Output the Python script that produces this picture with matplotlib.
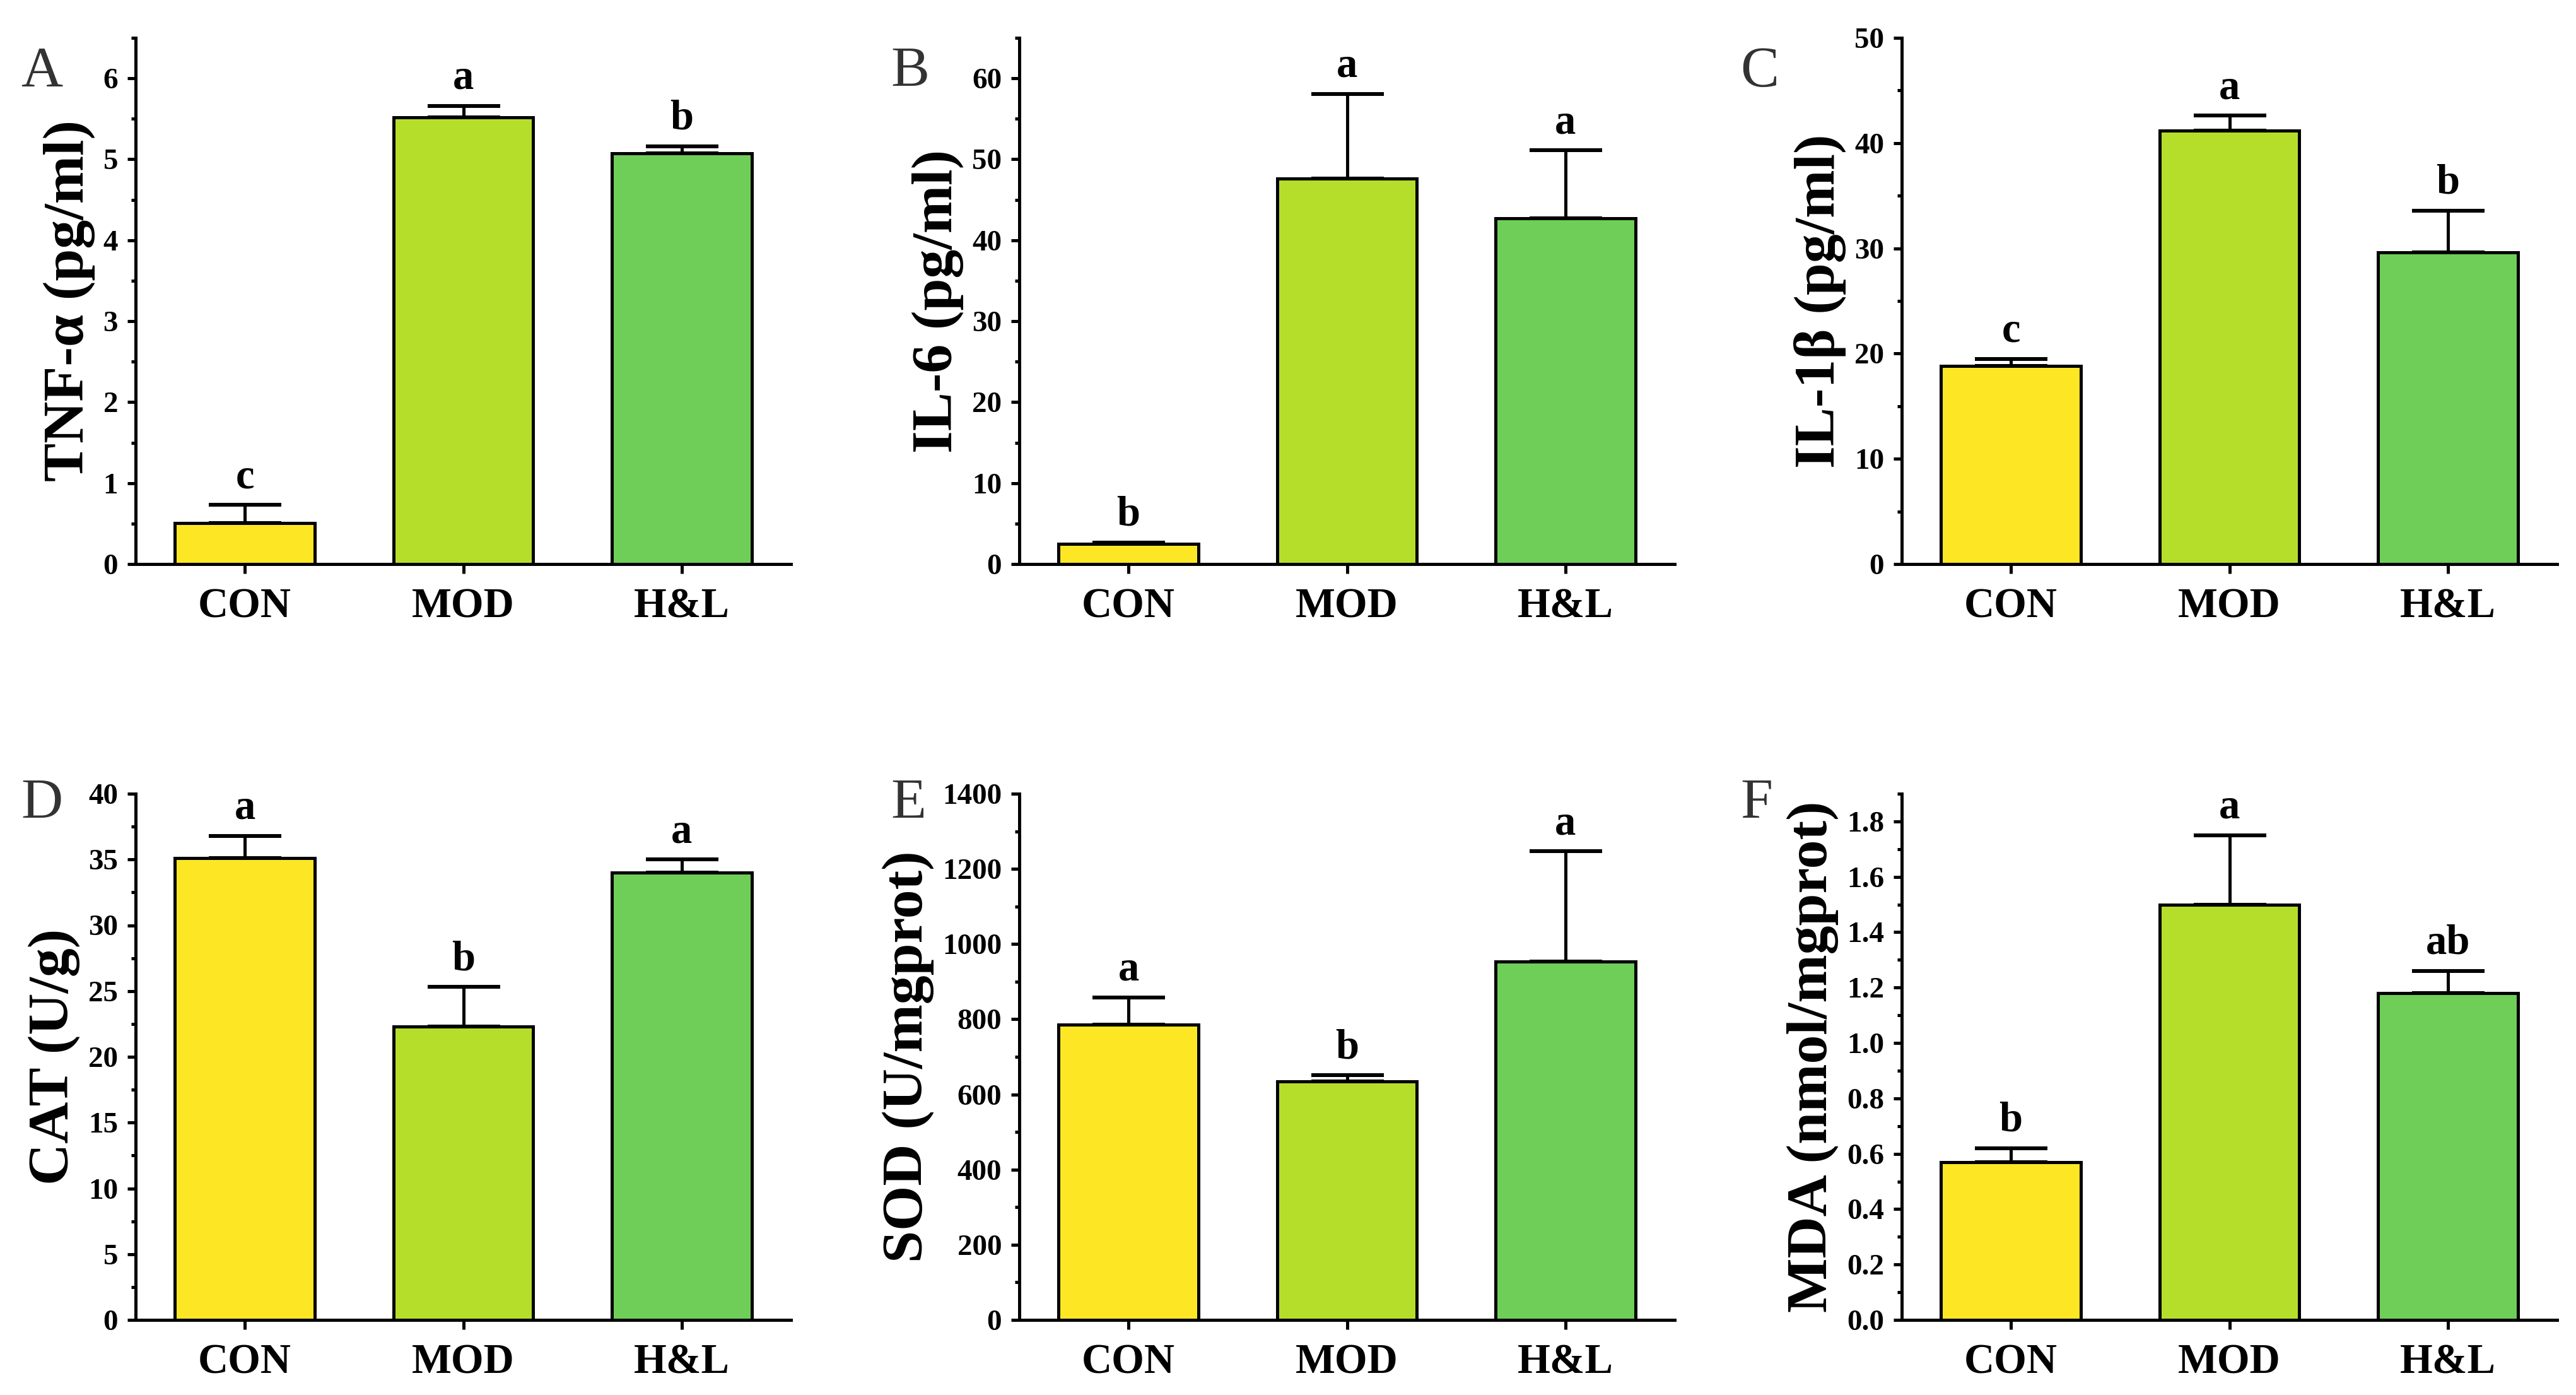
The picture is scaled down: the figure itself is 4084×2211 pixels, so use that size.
import matplotlib
matplotlib.use('Agg')
import matplotlib.pyplot as plt
from matplotlib.ticker import MultipleLocator, FormatStrFormatter

plt.rcParams['font.family'] = ['Liberation Serif', 'DejaVu Serif']
plt.rcParams['font.weight'] = 'bold'

# ---------------- data ----------------
groups = ['CON', 'MOD', 'H&L']

tnf_mean = [0.51, 5.52, 5.07]
tnf_err = [0.22, 0.14, 0.09]
tnf_sig = ['c', 'a', 'b']

il6_mean = [2.5, 47.6, 42.7]
il6_err = [0.15, 10.5, 8.4]
il6_sig = ['b', 'a', 'a']

il1b_mean = [18.8, 41.2, 29.6]
il1b_err = [0.7, 1.4, 4.0]
il1b_sig = ['c', 'a', 'b']

cat_mean = [35.1, 22.3, 34.0]
cat_err = [1.7, 3.0, 1.0]
cat_sig = ['a', 'b', 'a']

sod_mean = [786, 634, 953]
sod_err = [72, 17, 294]
sod_sig = ['a', 'b', 'a']

mda_mean = [0.57, 1.50, 1.18]
mda_err = [0.05, 0.25, 0.08]
mda_sig = ['b', 'a', 'ab']

bar_colors = ['#fde725', '#b5de2b', '#6ece58']

panels = [
    dict(letter='A', ylabel='TNF-α (pg/ml)', mean=tnf_mean, err=tnf_err, sig=tnf_sig,
         ylim=6.5, major=1, minor=0.5, fmt='%d'),
    dict(letter='B', ylabel='IL-6 (pg/ml)', mean=il6_mean, err=il6_err, sig=il6_sig,
         ylim=65, major=10, minor=5, fmt='%d'),
    dict(letter='C', ylabel='IL-1β (pg/ml)', mean=il1b_mean, err=il1b_err, sig=il1b_sig,
         ylim=50, major=10, minor=5, fmt='%d'),
    dict(letter='D', ylabel='CAT (U/g)', mean=cat_mean, err=cat_err, sig=cat_sig,
         ylim=40, major=5, minor=2.5, fmt='%d'),
    dict(letter='E', ylabel='SOD (U/mgprot)', mean=sod_mean, err=sod_err, sig=sod_sig,
         ylim=1400, major=200, minor=100, fmt='%d'),
    dict(letter='F', ylabel='MDA (nmol/mgprot)', mean=mda_mean, err=mda_err, sig=mda_sig,
         ylim=1.9, major=0.2, minor=0.1, fmt='%.1f'),
]

# ---------------- layout ----------------
W, H, DPI = 4084, 2211, 300
fig = plt.figure(figsize=(W / DPI, H / DPI), dpi=DPI)

col_left = [215, 1616, 3015]
col_width = 1039
row_top = [60, 1258]
row_height = 834
letter_x = [33, 1412, 2759]
letter_base = [137, 1297]

for i, p in enumerate(panels):
    r, c = divmod(i, 3)
    left = col_left[c] / W
    bottom = 1 - (row_top[r] + row_height) / H
    ax = fig.add_axes([left, bottom, col_width / W, row_height / H])

    x = list(range(len(groups)))
    ax.errorbar(x, p['mean'], yerr=[[0] * len(x), p['err']], fmt='none',
                ecolor='black', elinewidth=1.2, capsize=13.8, capthick=1.45, zorder=1)
    ax.bar(x, p['mean'], width=0.64, color=bar_colors, edgecolor='black',
           linewidth=1.2, zorder=2)
    for xi, m, e, s in zip(x, p['mean'], p['err'], p['sig']):
        ax.annotate(s, (xi, m + e), xytext=(0, 6.5), textcoords='offset points',
                    ha='center', va='baseline', fontsize=16, fontweight='bold')

    ax.set_xlim(-0.5, 2.5)
    ax.set_ylim(0, p['ylim'])
    ax.set_xticks(x)
    ax.set_xticklabels(groups, fontsize=16, fontweight='bold')
    ax.yaxis.set_major_locator(MultipleLocator(p['major']))
    ax.yaxis.set_minor_locator(MultipleLocator(p['minor']))
    ax.yaxis.set_major_formatter(FormatStrFormatter(p['fmt']))
    for lab in ax.get_yticklabels():
        lab.set_fontsize(11.3)
        lab.set_fontweight('bold')

    for side in ['top', 'right']:
        ax.spines[side].set_visible(False)
    for side in ['left', 'bottom']:
        ax.spines[side].set_linewidth(1.2)

    ax.tick_params(axis='y', which='major', direction='out', length=3.2, width=1.2, pad=3.5)
    ax.tick_params(axis='y', which='minor', direction='out', length=1.7, width=1.2)
    ax.tick_params(axis='x', which='major', direction='out', length=3.6, width=1.2, pad=5.5)
    ax.tick_params(axis='x', which='minor', bottom=False)

    ax.set_ylabel(p['ylabel'], fontsize=22, fontweight='bold', labelpad=3)

    fig.text(letter_x[c] / W, 1 - letter_base[r] / H, p['letter'], fontsize=22,
             fontweight='normal', color='#333333', ha='left', va='baseline')

fig.savefig('out.png', dpi=DPI)
